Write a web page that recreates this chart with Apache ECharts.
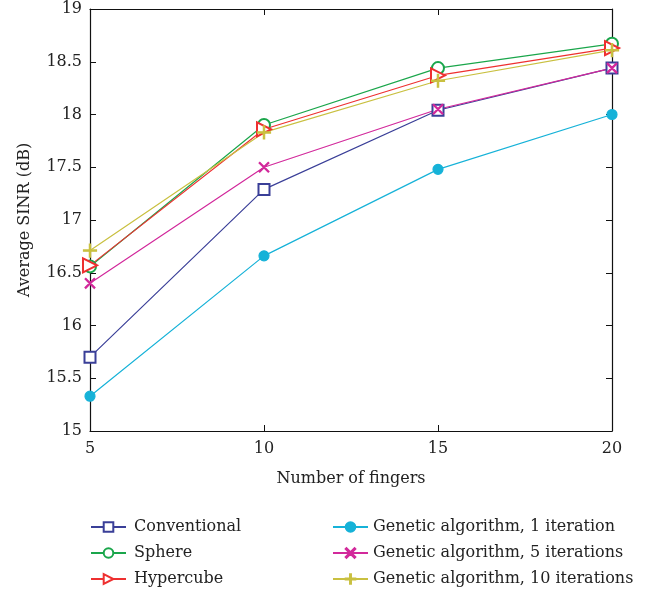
<!DOCTYPE html>
<html>
<head>
<meta charset="utf-8">
<script src="https://cdn.jsdelivr.net/npm/echarts@6/dist/echarts.min.js"></script>
<style>
html, body { margin: 0; padding: 0; background: #fff; }
#mainchart { width: 665px; height: 596px; }
</style>
</head>
<body>
<div id="mainchart"></div>
<script>
var fingers = [5, 10, 15, 20];
var conventional = [15.70, 17.29, 18.04, 18.44];
var sphere = [16.56, 17.90, 18.44, 18.67];
var hypercube = [16.57, 17.86, 18.37, 18.63];
var ga1 = [15.33, 16.66, 17.48, 18.00];
var ga5 = [16.40, 17.50, 18.05, 18.44];
var ga10 = [16.71, 17.83, 18.32, 18.61];

var names = ['Conventional', 'Sphere', 'Hypercube',
	'Genetic algorithm, 1 iteration', 'Genetic algorithm, 5 iterations', 'Genetic algorithm, 10 iterations'];

var plusPath = 'path://M4.5,0h1v10h-1zM0,4.5h10v1h-10z';
var crossPath = 'path://M0,0.8L0.8,0L10,9.2L9.2,10ZM10,0.8L9.2,0L0,9.2L0.8,10Z';

function pairs(ys) {
	var out = [];
	for (var i = 0; i < fingers.length; i++) out.push([fingers[i], ys[i]]);
	return out;
}

function mkSeries(name, ys, color, symbol, size, rotate) {
	return {
		name: name,
		type: 'line',
		data: pairs(ys),
		symbol: symbol,
		symbolSize: size,
		symbolRotate: rotate || 0,
		showAllSymbol: true,
		lineStyle: { color: color, width: 1.2 },
		itemStyle: { color: color, borderColor: color, borderWidth: 1.2 },
		emphasis: { disabled: true },
		z: 3
	};
}

var font = 'DejaVu Serif';
var txt = '#222';
var chart = echarts.init(document.getElementById('mainchart'));

var option = {
	animation: false,
	backgroundColor: '#fff',
	textStyle: { fontFamily: font },
	grid: { left: 90, right: 53, top: 9, bottom: 165, containLabel: false },
	legend: [{
		left: 85, top: 514,
		orient: 'vertical',
		itemWidth: 35, itemHeight: 12, itemGap: 10,
		data: names.slice(0, 3),
		textStyle: { fontFamily: font, fontSize: 16, color: txt, padding: [0, 0, 0, 3] }
	}, {
		left: 327, top: 514,
		orient: 'vertical',
		itemWidth: 35, itemHeight: 12, itemGap: 10,
		data: names.slice(3),
		textStyle: { fontFamily: font, fontSize: 16, color: txt, padding: [0, 0, 0, 0] }
	}],
	xAxis: [{
		type: 'value', min: 5, max: 20, interval: 5,
		name: 'Number of fingers', nameLocation: 'middle', nameGap: 40,
		nameTextStyle: { fontFamily: font, fontSize: 16, color: txt },
		axisLine: { lineStyle: { color: '#111', width: 1.2 } },
		axisTick: { inside: true, length: 6, lineStyle: { color: '#111' } },
		axisLabel: { fontFamily: font, fontSize: 16, color: txt, margin: 10 },
		splitLine: { show: false }
	}, {
		type: 'value', min: 5, max: 20, interval: 5, position: 'top',
		axisLine: { show: true, lineStyle: { color: '#111', width: 1.2 } },
		axisTick: { inside: true, length: 6, lineStyle: { color: '#111' } },
		axisLabel: { show: false },
		splitLine: { show: false }
	}],
	yAxis: [{
		type: 'value', min: 15, max: 19, interval: 0.5,
		name: 'Average SINR (dB)', nameLocation: 'middle', nameGap: 57,
		nameTextStyle: { fontFamily: font, fontSize: 16, color: txt },
		axisLine: { show: true, lineStyle: { color: '#111', width: 1.2 } },
		axisTick: { inside: true, length: 6, lineStyle: { color: '#111' } },
		axisLabel: { fontFamily: font, fontSize: 16, color: txt, margin: 8 },
		splitLine: { show: false }
	}, {
		type: 'value', min: 15, max: 19, interval: 0.5, position: 'right',
		axisLine: { show: true, lineStyle: { color: '#111', width: 1.2 } },
		axisTick: { inside: true, length: 6, lineStyle: { color: '#111' } },
		axisLabel: { show: false },
		splitLine: { show: false }
	}],
	series: [
		mkSeries(names[0], conventional, '#3a3f98', 'emptyRect', 11),
		mkSeries(names[1], sphere, '#1aa64b', 'emptyCircle', 12),
		mkSeries(names[2], hypercube, '#ee3030', 'emptyTriangle', 14, -90),
		mkSeries(names[3], ga1, '#16b2d8', 'circle', 10),
		mkSeries(names[4], ga5, '#d2299b', crossPath, 10),
		mkSeries(names[5], ga10, '#c9c040', plusPath, 13)
	]
};
chart.setOption(option);
</script>
</body>
</html>
